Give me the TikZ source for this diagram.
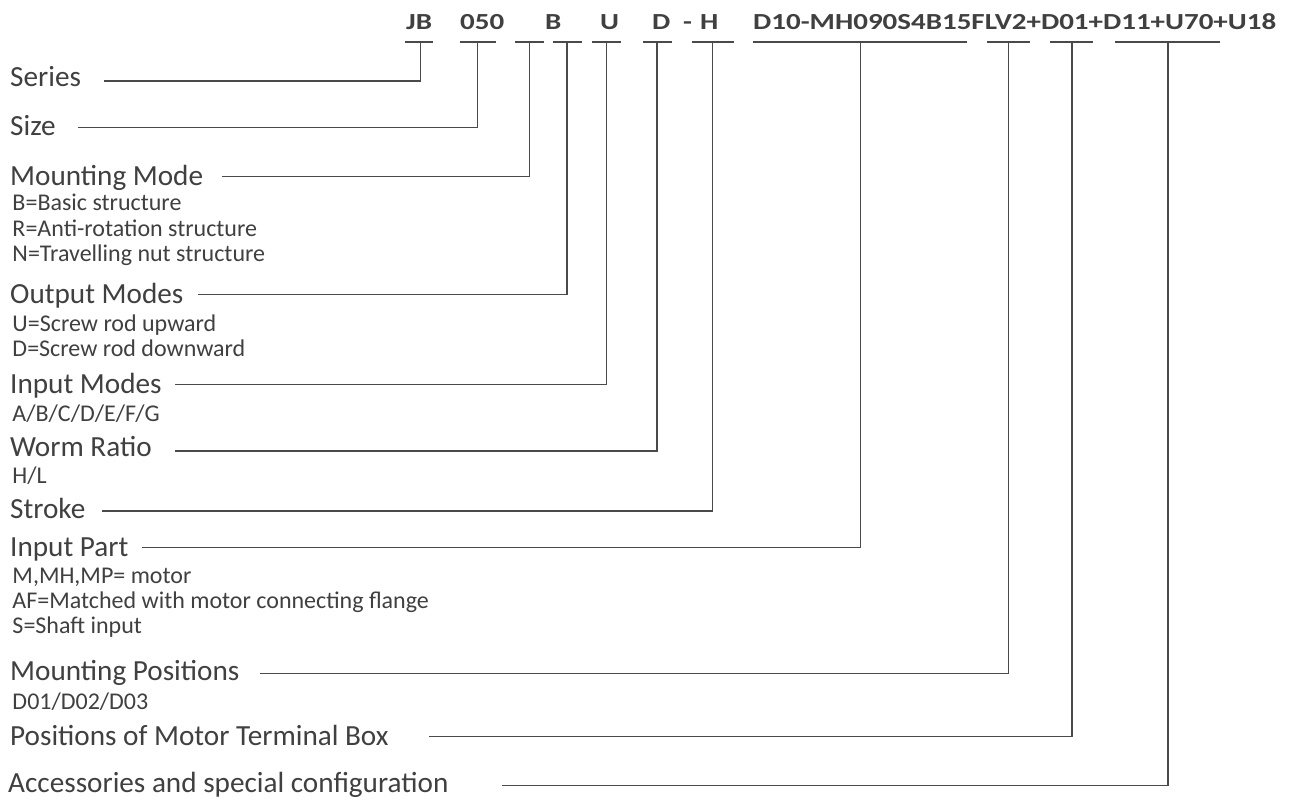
\documentclass[tikz,border=0pt]{standalone}
\usepackage{fontspec}
\setmainfont{Carlito}
\begin{document}
\begin{tikzpicture}[x=1pt,y=-1pt,
  lbl/.style={anchor=base west,inner sep=0pt,text=txtgray,font=\fontsize{29.2}{32}\selectfont},
  sub/.style={anchor=base west,inner sep=0pt,text=txtgray,font=\fontsize{24}{26}\selectfont},
  code/.style={anchor=base west,inner sep=0pt,text=txtgray,font=\fontsize{23}{26}\selectfont\bfseries},
  conn/.style={draw=linegray,line width=1.5pt}]
\definecolor{txtgray}{HTML}{404040}
\definecolor{linegray}{HTML}{4A4A4A}
\useasboundingbox (0,0) rectangle (1295,801);
\fill[white] (0,0) rectangle (1295,801);
% top code
\node[code] (cJB) at (406,29.3) {\scalebox{1.26}[1]{JB}};
\node[code] (c050) at (460,29.3) {\scalebox{1.26}[1]{050}};
\node[code] (cB) at (545,29.3) {\scalebox{1.26}[1]{B}};
\node[code] (cU) at (600,29.3) {\scalebox{1.26}[1]{U}};
\node[code] (cD) at (652,29.3) {\scalebox{1.26}[1]{D}};
\node[code] (cdash) at (683,29.3) {\scalebox{1.26}[1]{-}};
\node[code] (cH) at (700,29.3) {\scalebox{1.26}[1]{H}};
\node[code] (cRest) at (753,29.3) {\scalebox{1.26}[1]{D10-MH090S4B15FLV2+D01+D11+U70+U18}};
% ticks
\foreach \n/\a/\b/\m in {1/405/433/420.7, 2/460/496/477.7, 3/515/544/529.3, 4/553/582/567,
  5/592/621/606.3, 6/643/672/657, 7/692/734/712.5, 8/753/967/860.3, 9/987/1030/1008.5,
  10/1050/1093/1072, 11/1115/1220/1168}{
  \coordinate (ta\n) at (\a,42);
  \coordinate (tb\n) at (\b,42);
  \coordinate (tm\n) at (\m,42);
  \draw[conn] (ta\n) -- (tb\n);
}
% labels
\node[lbl] (series) at (10,86.7) {Series};
\node[lbl] (size) at (10,135) {Size};
\node[lbl] (mmode) at (10,185) {Mounting Mode};
\node[sub] (mmode1) at (12.3,210.7) {B=Basic structure};
\node[sub] (mmode2) at (12.3,236.7) {R=Anti-rotation structure};
\node[sub] (mmode3) at (12.3,261.7) {N=Travelling nut structure};
\node[lbl] (omode) at (10,303.3) {Output Modes};
\node[sub] (omode1) at (12.3,331.7) {U=Screw rod upward};
\node[sub] (omode2) at (12.3,356.7) {D=Screw rod downward};
\node[lbl] (imode) at (10,393.3) {Input Modes};
\node[sub] (imode1) at (12.3,421.7) {A/B/C/D/E/F/G};
\node[lbl] (worm) at (10,456.7) {Worm Ratio};
\node[sub] (worm1) at (12.3,483.3) {H/L};
\node[lbl] (stroke) at (10,518.3) {Stroke};
\node[lbl] (ipart) at (10,556) {Input Part};
\node[sub] (ipart1) at (12.3,583.3) {M,MH,MP= motor};
\node[sub] (ipart2) at (12.3,608.3) {AF=Matched with motor connecting flange};
\node[sub] (ipart3) at (12.3,633.3) {S=Shaft input};
\node[lbl] (mpos) at (10,680.7) {Mounting Positions};
\node[sub] (mpos1) at (12.3,709.3) {D01/D02/D03};
\node[lbl] (tbox) at (10,745.7) {Positions of Motor Terminal Box};
\node[lbl] (acc) at (8,792.7) {Accessories and special configuration};
% connector start points
\foreach \n/\x/\y in {1/104/81, 2/78/127.7, 3/222/176.5, 4/198/294.5, 5/175/384.3, 6/175/451,
  7/102/511, 8/142/547.3, 9/260/673.7, 10/429/736.7, 11/502/785.7}{
  \coordinate (ls\n) at (\x,\y);
  \draw[conn] (ls\n) -| (tm\n);
}
\end{tikzpicture}
\end{document}
